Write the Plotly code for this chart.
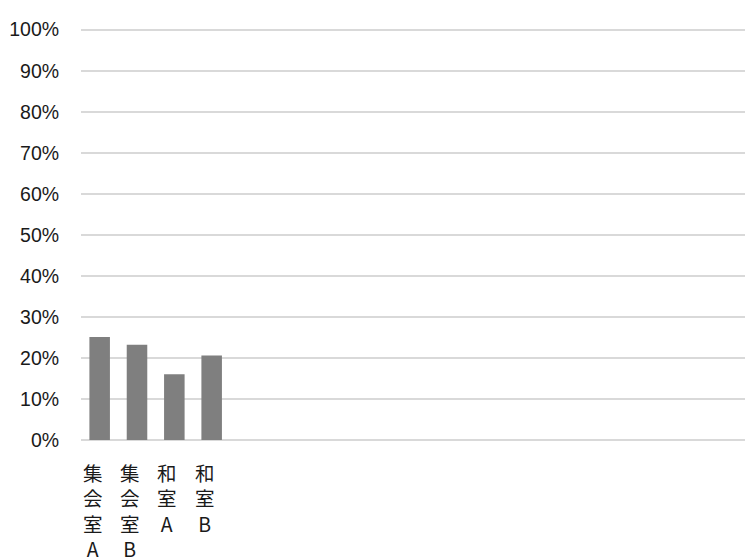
import plotly.graph_objects as go

categories = ["集会室A", "集会室B", "和室A", "和室B"]
values = [25.1, 23.2, 16.0, 20.6]
n_slots = 18
y_ticks = [0, 10, 20, 30, 40, 50, 60, 70, 80, 90, 100]
y_tick_labels = [f"{v}%" for v in y_ticks]

label_text = ["<br>".join(list(c)) for c in categories]

fig = go.Figure(go.Bar(
    x=list(range(len(categories))),
    y=values,
    marker=dict(color="#7f7f7f", line=dict(width=0)),
    width=0.55,
))

for i, t in enumerate(label_text):
    fig.add_annotation(
        x=i, y=0, xref="x", yref="y",
        text=t, showarrow=False,
        xanchor="center", yanchor="top",
        xshift=-7, yshift=-16,
        align="center",
        font=dict(size=19.5, color="#1a1a1a", family="Noto Sans CJK JP, sans-serif"),
    )

fig.update_layout(
    width=745, height=552,
    margin=dict(l=73, r=0, t=20, b=120),
    paper_bgcolor="white", plot_bgcolor="white",
    showlegend=False,
    font=dict(family="Noto Sans CJK JP, Liberation Sans, sans-serif", color="#1a1a1a"),
)
fig.update_xaxes(
    range=[-0.5, n_slots - 0.5],
    showticklabels=False,
    showgrid=False, zeroline=False, showline=False,
    automargin=False,
)
fig.update_yaxes(
    range=[0, 100.4],
    tickvals=y_ticks, ticktext=y_tick_labels,
    ticks="outside", ticklen=17, tickcolor="rgba(0,0,0,0)",
    tickfont=dict(size=19.5, color="#1a1a1a", family="Liberation Sans, sans-serif"),
    showgrid=True, gridcolor="#d9d9d9", gridwidth=1.5,
    zeroline=True, zerolinecolor="#d9d9d9", zerolinewidth=1.5,
    showline=False,
    automargin=False,
)

fig.write_html("out.html")
